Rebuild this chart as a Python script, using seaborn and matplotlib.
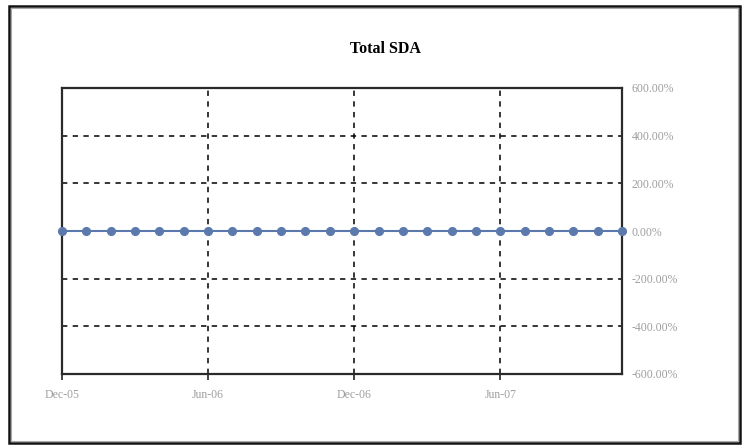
import matplotlib
matplotlib.use("Agg")
import matplotlib.pyplot as plt
from matplotlib.patches import Rectangle
from matplotlib.ticker import FuncFormatter
import pandas as pd
import seaborn as sns

# Monthly Total SDA series, Dec-05 through Nov-07
months = ["Dec-05", "Jan-06", "Feb-06", "Mar-06", "Apr-06", "May-06",
          "Jun-06", "Jul-06", "Aug-06", "Sep-06", "Oct-06", "Nov-06",
          "Dec-06", "Jan-07", "Feb-07", "Mar-07", "Apr-07", "May-07",
          "Jun-07", "Jul-07", "Aug-07", "Sep-07", "Oct-07", "Nov-07"]
total_sda = [0.0, 0.0, 0.0, 0.0, 0.0, 0.0, 0.0, 0.0, 0.0, 0.0, 0.0, 0.0,
             0.0, 0.0, 0.0, 0.0, 0.0, 0.0, 0.0, 0.0, 0.0, 0.0, 0.0, 0.0]
tick_months = ["Dec-05", "Jun-06", "Dec-06", "Jun-07"]
y_ticks = [-6.0, -4.0, -2.0, 0.0, 2.0, 4.0, 6.0]

df = pd.DataFrame({"idx": range(len(months)), "month": months, "value": total_sda})

sns.set_theme(style="white")
plt.rcParams["font.family"] = ["Liberation Serif", "DejaVu Serif"]

W, H = 746, 445
fig = plt.figure(figsize=(W / 100, H / 100), dpi=100)
fig.patch.set_facecolor("white")

# Outer chart frame
fig.patches.append(Rectangle((9 / W, 1 - 443 / H), 731 / W, 437 / H,
                             transform=fig.transFigure, fill=False,
                             edgecolor="#111111", linewidth=1.8, zorder=0))
fig.patches.append(Rectangle((11 / W, 1 - 441 / H), 727 / W, 433 / H,
                             transform=fig.transFigure, fill=False,
                             edgecolor="#a8a8a8", linewidth=0.8, zorder=0))

left, right, top, bottom = 62, 622, 88, 374
ax = fig.add_axes([left / W, 1 - bottom / H, (right - left) / W, (bottom - top) / H])

color = "#5b79ad"
sns.lineplot(data=df, x="idx", y="value", ax=ax, color=color, linewidth=1.5,
             marker="o", markersize=5.8, markeredgecolor=color, clip_on=False,
             zorder=5)

ax.set_xlim(0, len(months) - 1)
ax.set_ylim(-6, 6)

ax.set_xticks([months.index(m) for m in tick_months])
ax.set_xticklabels(tick_months)
ax.set_yticks(y_ticks)
ax.yaxis.set_major_formatter(FuncFormatter(lambda v, _: f"{v * 100:.2f}%"))

label_gray = "#9e9e9e"
ax.yaxis.tick_right()
ax.tick_params(axis="x", which="major", direction="out", length=4, width=1.2,
               color="#222222", pad=7, labelsize=8.5, labelcolor=label_gray,
               bottom=True)
ax.tick_params(axis="y", which="major", length=0, pad=7, labelsize=8.5,
               labelcolor=label_gray, right=True, left=False)

ax.grid(True, axis="both", color="black", linestyle=(0, (3.5, 3.5)), linewidth=1.1)
for s in ax.spines.values():
    s.set_visible(True)
    s.set_color("#2a2a2a")
    s.set_linewidth(1.6)

ax.set_xlabel("")
ax.set_ylabel("")

fig.text(385 / W, 1 - 49 / H, "Total SDA", ha="center", va="center",
         fontsize=11.5, fontweight="bold", color="black")

fig.savefig("out.png", dpi=100, facecolor="white")
